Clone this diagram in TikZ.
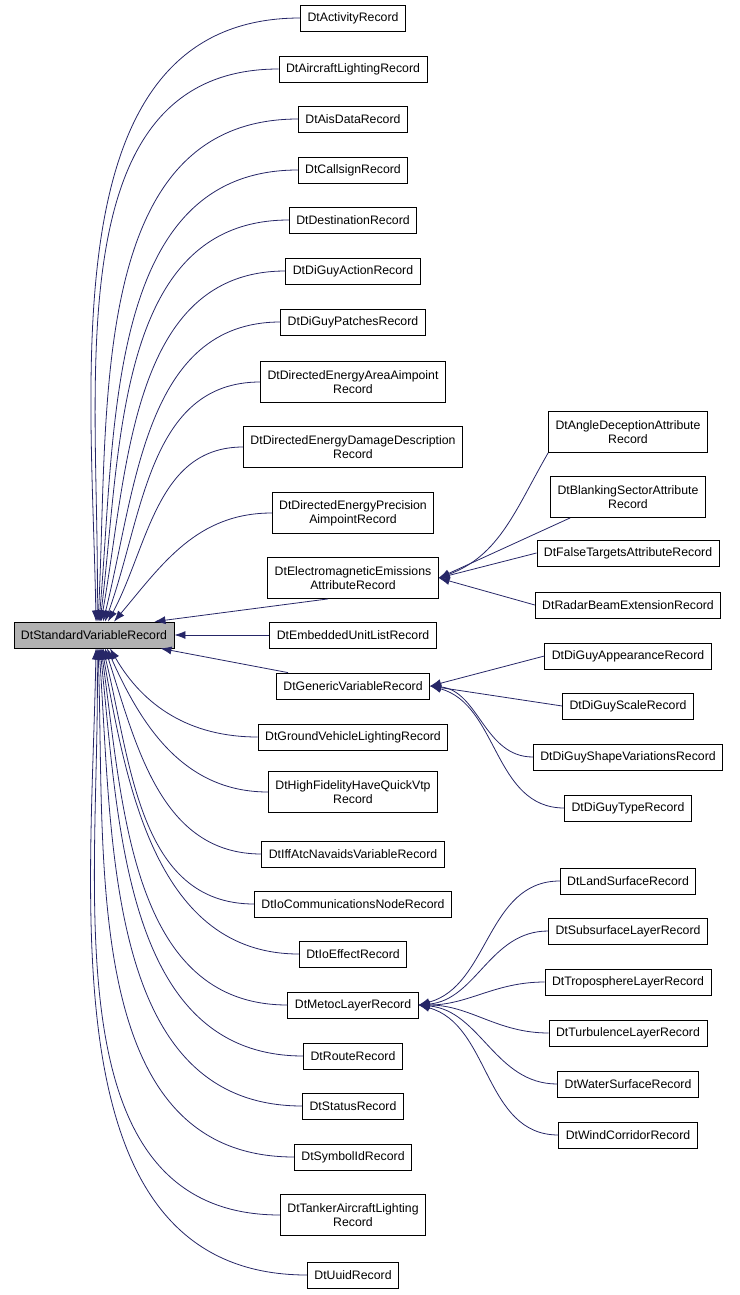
\documentclass[tikz,border=0pt]{standalone}
\usepackage{fontspec}
\setmainfont{Liberation Sans}
\usetikzlibrary{arrows.meta, calc}
\tikzset{
    my-class/.style={
      draw, fill=white, font=\fontsize{12.3}{14}\selectfont, align=center,
      inner xsep=7pt, inner ysep=0pt, minimum height=26pt, line width=0.8pt
    },
    my-class2/.style={
      my-class, minimum height=41pt
    },
    my-root/.style={
      my-class, fill=black!30
    },
    my-edge/.style={
      draw=blue!30!black!85, {Latex[length=11pt,width=8pt]}-, line width=0.8pt
    },
}
\begin{document}
\begin{tikzpicture}[x=1pt, y=-1pt]
        \useasboundingbox (0,0) rectangle (739,1295);

        % ROOT
        \node[my-root] (ROOT) at (94,635) {DtStandardVariableRecord};

        % MIDDLE COLUMN
        \node[my-class]  (ACT)     at (353,18)   {DtActivityRecord};
        \node[my-class]  (AIR)     at (353,69)   {DtAircraftLightingRecord};
        \node[my-class]  (AIS)     at (353,119)  {DtAisDataRecord};
        \node[my-class]  (CALL)    at (353,170)  {DtCallsignRecord};
        \node[my-class]  (DEST)    at (353,220)  {DtDestinationRecord};
        \node[my-class]  (ACTION)  at (353,271)  {DtDiGuyActionRecord};
        \node[my-class]  (PATCH)   at (353,322)  {DtDiGuyPatchesRecord};
        \node[my-class2] (AREA)    at (353,382)  {DtDirectedEnergyAreaAimpoint\\Record};
        \node[my-class2] (DAMAGE)  at (353,447)  {DtDirectedEnergyDamageDescription\\Record};
        \node[my-class2] (PREC)    at (353,513)  {DtDirectedEnergyPrecision\\AimpointRecord};
        \node[my-class2] (ELEC)    at (353,578)  {DtElectromagneticEmissions\\AttributeRecord};
        \node[my-class]  (EMB)     at (353,635)  {DtEmbeddedUnitListRecord};
        \node[my-class]  (GEN)     at (353,686)  {DtGenericVariableRecord};
        \node[my-class]  (GROUND)  at (353,737)  {DtGroundVehicleLightingRecord};
        \node[my-class2] (HAVE)    at (353,792)  {DtHighFidelityHaveQuickVtp\\Record};
        \node[my-class]  (IFF)     at (353,854)  {DtIffAtcNavaidsVariableRecord};
        \node[my-class]  (IOCOM)   at (353,904)  {DtIoCommunicationsNodeRecord};
        \node[my-class]  (IOEFF)   at (353,954)  {DtIoEffectRecord};
        \node[my-class]  (METOC)   at (353,1005) {DtMetocLayerRecord};
        \node[my-class]  (ROUTE)   at (353,1056) {DtRouteRecord};
        \node[my-class]  (STATUS)  at (353,1106) {DtStatusRecord};
        \node[my-class]  (SYMBOL)  at (353,1157) {DtSymbolIdRecord};
        \node[my-class2] (TANKER)  at (353,1215) {DtTankerAircraftLighting\\Record};
        \node[my-class]  (UUID)    at (353,1275) {DtUuidRecord};

        % RIGHT COLUMN
        \node[my-class2] (ANGLE)   at (628,432)  {DtAngleDeceptionAttribute\\Record};
        \node[my-class2] (BLANK)   at (628,497)  {DtBlankingSectorAttribute\\Record};
        \node[my-class]  (FALSE)   at (628,553)  {DtFalseTargetsAttributeRecord};
        \node[my-class]  (RADAR)   at (628,605)  {DtRadarBeamExtensionRecord};
        \node[my-class]  (APPEAR)  at (628,656)  {DtDiGuyAppearanceRecord};
        \node[my-class]  (SCALE)   at (628,706)  {DtDiGuyScaleRecord};
        \node[my-class]  (SHAPE)   at (628,757)  {DtDiGuyShapeVariationsRecord};
        \node[my-class]  (TYPE)    at (628,808)  {DtDiGuyTypeRecord};
        \node[my-class]  (LAND)    at (628,881)  {DtLandSurfaceRecord};
        \node[my-class]  (SUB)     at (628,931)  {DtSubsurfaceLayerRecord};
        \node[my-class]  (TROPO)   at (628,982)  {DtTroposphereLayerRecord};
        \node[my-class]  (TURB)    at (628,1033) {DtTurbulenceLayerRecord};
        \node[my-class]  (WATER)   at (628,1084) {DtWaterSurfaceRecord};
        \node[my-class]  (WIND)    at (628,1135) {DtWindCorridorRecord};

        % EDGES TO ROOT (ABOVE)
        \foreach \n/\dx/\o in {ACT/2/91, AIR/3/89, AIS/4/87, CALL/5/85, DEST/6/83,
                               ACTION/7/80, PATCH/9/76, AREA/11/70, DAMAGE/14/62, PREC/20/50}
          \draw[my-edge] ($(ROOT.north)+(\dx,0)$) to[out=\o, in=180] (\n.west);

        % EDGES TO ROOT (BELOW)
        \foreach \n/\dx/\o in {GROUND/16/-60, HAVE/13/-66, IFF/11/-72, IOCOM/9/-76, IOEFF/8/-80,
                               METOC/7/-82, ROUTE/6/-84, STATUS/5/-86, SYMBOL/4/-88,
                               TANKER/3/-89, UUID/2/-91}
          \draw[my-edge] ($(ROOT.south)+(\dx,0)$) to[out=\o, in=180] (\n.west);

        % STRAIGHT EDGES
        \draw[my-edge] ($(ROOT.north east)+(-20,0)$) -- (ELEC.220);
        \draw[my-edge] (ROOT.east) -- (EMB.west);
        \draw[my-edge] ($(ROOT.south east)+(-14,0)$) -- ($(GEN.north west)+(12,0)$);

        % SUB EDGES
        \draw[my-edge] (ELEC.east) to[out=20, in=240] (ANGLE.south west);
        \draw[my-edge] (ELEC.east) -- ($(BLANK.south west)+(20,0)$);
        \foreach \n in {FALSE, RADAR}
          \draw[my-edge] (ELEC.east) -- (\n.west);
        \draw[my-edge] (GEN.east) -- (APPEAR.west);
        \draw[my-edge] (GEN.east) -- (SCALE.west);
        \draw[my-edge] (GEN.east) to[out=-5, in=180] (SHAPE.west);
        \draw[my-edge] (GEN.east) to[out=-15, in=180] (TYPE.west);
        \foreach \n/\o in {LAND/15, SUB/5, TROPO/0, TURB/0, WATER/-5, WIND/-15}
          \draw[my-edge] (METOC.east) to[out=\o, in=180] (\n.west);

\end{tikzpicture}
\end{document}
